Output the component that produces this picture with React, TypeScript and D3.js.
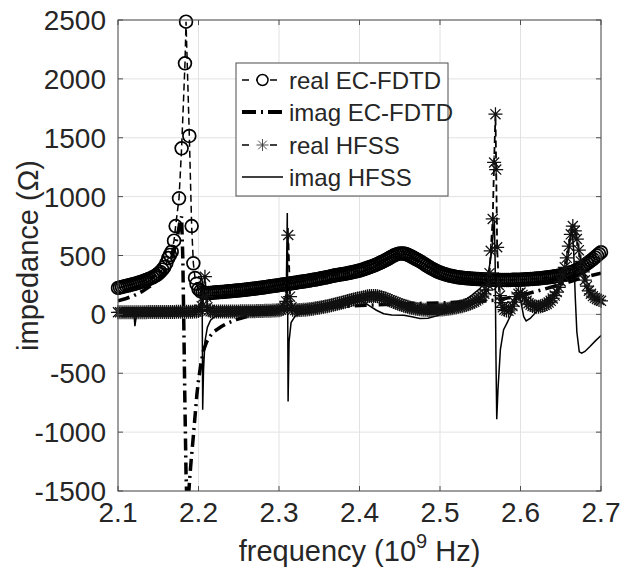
import React, { useEffect, useRef } from 'react';
import * as d3 from 'd3';

// [frequency (1e9 Hz), impedance (ohm)]
const realEcFdtd: [number, number][] = [
  [2.1000, 225], [2.1025, 229], [2.1050, 233], [2.1075, 237], [2.1100, 241], [2.1125, 245],
  [2.1150, 250], [2.1175, 254], [2.1200, 259], [2.1225, 263], [2.1250, 268], [2.1275, 273],
  [2.1300, 279], [2.1325, 285], [2.1350, 291], [2.1375, 298], [2.1400, 305], [2.1425, 313],
  [2.1450, 322], [2.1475, 332], [2.1500, 345], [2.1525, 360], [2.1550, 380], [2.1575, 402],
  [2.1600, 435], [2.1625, 478], [2.1645, 505], [2.1667, 532], [2.1696, 626],
  [2.1716, 750], [2.1758, 986], [2.1790, 1410],
  [2.1832, 2132], [2.1845, 2486], [2.1886, 1515], [2.1915, 750],
  [2.1936, 434], [2.1957, 309], [2.1975, 260], [2.2000, 215], [2.2025, 198], [2.2050, 188],
  [2.2075, 183], [2.2100, 180], [2.2125, 181], [2.2150, 182], [2.2175, 184], [2.2200, 185],
  [2.2225, 187], [2.2250, 188], [2.2275, 190], [2.2300, 191], [2.2325, 193], [2.2350, 194],
  [2.2375, 196], [2.2400, 197], [2.2425, 199], [2.2450, 200], [2.2475, 202], [2.2500, 203],
  [2.2525, 205], [2.2550, 207], [2.2575, 209], [2.2600, 211], [2.2625, 213], [2.2650, 215],
  [2.2675, 217], [2.2700, 219], [2.2725, 221], [2.2750, 223], [2.2775, 226], [2.2800, 228],
  [2.2825, 231], [2.2850, 233], [2.2875, 236], [2.2900, 238], [2.2925, 241], [2.2950, 243],
  [2.2975, 246], [2.3000, 248], [2.3025, 251], [2.3050, 253], [2.3075, 256], [2.3100, 258],
  [2.3125, 261], [2.3150, 263], [2.3175, 266], [2.3200, 268], [2.3225, 271], [2.3250, 274],
  [2.3275, 277], [2.3300, 279], [2.3325, 282], [2.3350, 284], [2.3375, 287], [2.3400, 290],
  [2.3425, 293], [2.3450, 296], [2.3475, 299], [2.3500, 302], [2.3525, 306], [2.3550, 309],
  [2.3575, 313], [2.3600, 316], [2.3625, 320], [2.3650, 324], [2.3675, 328], [2.3700, 332],
  [2.3725, 335], [2.3750, 337], [2.3775, 340], [2.3800, 343], [2.3825, 346], [2.3850, 349],
  [2.3875, 353], [2.3900, 356], [2.3925, 360], [2.3950, 364], [2.3975, 368], [2.4000, 372],
  [2.4025, 377], [2.4050, 383], [2.4075, 389], [2.4100, 395], [2.4125, 401], [2.4150, 407],
  [2.4175, 413], [2.4200, 420], [2.4225, 428], [2.4250, 436], [2.4275, 444], [2.4300, 452],
  [2.4325, 461], [2.4350, 470], [2.4375, 480], [2.4400, 490], [2.4425, 499], [2.4450, 507],
  [2.4475, 513], [2.4500, 517], [2.4525, 518], [2.4550, 516], [2.4575, 512], [2.4600, 506],
  [2.4625, 498], [2.4650, 489], [2.4675, 480], [2.4700, 470], [2.4725, 461], [2.4750, 452],
  [2.4775, 441], [2.4800, 430], [2.4825, 419], [2.4850, 408], [2.4875, 398], [2.4900, 388],
  [2.4925, 379], [2.4950, 370], [2.4975, 362], [2.5000, 355], [2.5025, 349], [2.5050, 343],
  [2.5075, 338], [2.5100, 333], [2.5125, 329], [2.5150, 325], [2.5175, 321], [2.5200, 318],
  [2.5225, 315], [2.5250, 313], [2.5275, 311], [2.5300, 309], [2.5325, 307], [2.5350, 306],
  [2.5375, 304], [2.5400, 303], [2.5425, 302], [2.5450, 301], [2.5475, 300], [2.5500, 299],
  [2.5525, 298], [2.5550, 297], [2.5575, 296], [2.5600, 295], [2.5625, 294], [2.5650, 294],
  [2.5675, 293], [2.5700, 293], [2.5725, 292], [2.5750, 292], [2.5775, 292], [2.5800, 292],
  [2.5825, 292], [2.5850, 292], [2.5875, 292], [2.5900, 293], [2.5925, 293], [2.5950, 294],
  [2.5975, 294], [2.6000, 295], [2.6025, 296], [2.6050, 297], [2.6075, 298], [2.6100, 299],
  [2.6125, 300], [2.6150, 301], [2.6175, 302], [2.6200, 304], [2.6225, 305], [2.6250, 307],
  [2.6275, 309], [2.6300, 311], [2.6325, 313], [2.6350, 315], [2.6375, 317], [2.6400, 320],
  [2.6425, 323], [2.6450, 326], [2.6475, 329], [2.6500, 333], [2.6525, 337], [2.6550, 341],
  [2.6575, 346], [2.6600, 351], [2.6625, 357], [2.6650, 363], [2.6675, 370], [2.6700, 378],
  [2.6725, 387], [2.6750, 396], [2.6775, 407], [2.6800, 418], [2.6825, 430], [2.6850, 443],
  [2.6875, 456], [2.6900, 470], [2.6925, 484], [2.6950, 499], [2.6975, 513], [2.7000, 528],
];

const imagEcFdtd: [number, number][] = [
  [2.100, 115], [2.110, 135], [2.120, 160], [2.130, 195], [2.140, 240], [2.150, 295], [2.155, 335],
  [2.160, 385], [2.165, 450], [2.170, 550], [2.174, 670], [2.177, 790], [2.179, 830], [2.1805, 480],
  [2.1818, -100], [2.183, -700], [2.1845, -1350], [2.186, -1700], [2.1875, -1560], [2.189, -1400],
  [2.191, -1230], [2.193, -1080], [2.196, -840], [2.198, -680], [2.200, -560], [2.203, -420],
  [2.206, -310], [2.210, -235], [2.215, -180], [2.220, -142], [2.228, -105], [2.235, -78],
  [2.247, -45], [2.260, -18], [2.272, 4], [2.285, 20], [2.296, 33], [2.320, 45], [2.350, 58],
  [2.400, 75], [2.450, 88], [2.500, 98], [2.550, 110], [2.570, 122], [2.600, 160], [2.630, 215],
  [2.660, 275], [2.680, 318], [2.700, 350],
];

const realHfss: [number, number][] = [
  [2.1000, 18], [2.1025, 18], [2.1050, 18], [2.1075, 18], [2.1100, 18], [2.1125, 18], [2.1150, 18],
  [2.1175, 19], [2.1200, 19], [2.1225, 19], [2.1250, 19], [2.1275, 19], [2.1300, 19], [2.1325, 19],
  [2.1350, 19], [2.1375, 20], [2.1400, 20], [2.1425, 20], [2.1450, 20], [2.1475, 20], [2.1500, 20],
  [2.1525, 20], [2.1550, 20], [2.1575, 21], [2.1600, 21], [2.1625, 21], [2.1650, 21], [2.1675, 21],
  [2.1700, 21], [2.1725, 22], [2.1750, 22], [2.1775, 22], [2.1800, 22], [2.1825, 22], [2.1850, 22],
  [2.1875, 23], [2.1900, 23], [2.1925, 23], [2.1950, 24], [2.1975, 25], [2.2000, 28], [2.2020, 40],
  [2.2040, 70], [2.2060, 150], [2.2080, 320], [2.2095, 150], [2.2110, 60], [2.2130, 35],
  [2.2150, 26], [2.2175, 25], [2.2200, 24], [2.2225, 24], [2.2250, 24], [2.2275, 24], [2.2300, 24],
  [2.2325, 24], [2.2350, 24], [2.2375, 25], [2.2400, 25], [2.2425, 25], [2.2450, 25], [2.2475, 25],
  [2.2500, 25], [2.2525, 26], [2.2550, 26], [2.2575, 26], [2.2600, 26], [2.2625, 27], [2.2650, 27],
  [2.2675, 27], [2.2700, 27], [2.2725, 28], [2.2750, 28], [2.2775, 29], [2.2800, 29], [2.2825, 30],
  [2.2850, 30], [2.2875, 31], [2.2900, 31], [2.2925, 32], [2.2950, 33], [2.2975, 34], [2.3000, 36],
  [2.3025, 40], [2.3050, 45], [2.3070, 60], [2.3090, 110], [2.3115, 674], [2.3137, 150],
  [2.3155, 60], [2.3170, 40], [2.3200, 36], [2.3225, 36], [2.3250, 37], [2.3275, 38], [2.3300, 39],
  [2.3325, 40], [2.3350, 42], [2.3375, 44], [2.3400, 46], [2.3425, 48], [2.3450, 51], [2.3475, 54],
  [2.3500, 57], [2.3525, 60], [2.3550, 63], [2.3575, 66], [2.3600, 70], [2.3625, 74], [2.3650, 78],
  [2.3675, 82], [2.3700, 86], [2.3725, 90], [2.3750, 95], [2.3775, 99], [2.3800, 104],
  [2.3825, 108], [2.3850, 113], [2.3875, 117], [2.3900, 122], [2.3925, 126], [2.3950, 130],
  [2.3975, 134], [2.4000, 138], [2.4025, 142], [2.4050, 146], [2.4075, 150], [2.4100, 153],
  [2.4125, 155], [2.4150, 157], [2.4175, 157], [2.4200, 156], [2.4225, 153], [2.4250, 150],
  [2.4275, 145], [2.4300, 140], [2.4325, 134], [2.4350, 127], [2.4375, 120], [2.4400, 113],
  [2.4425, 106], [2.4450, 99], [2.4475, 92], [2.4500, 86], [2.4525, 80], [2.4550, 74], [2.4575, 69],
  [2.4600, 64], [2.4625, 59], [2.4650, 55], [2.4675, 51], [2.4700, 48], [2.4725, 45], [2.4750, 43],
  [2.4775, 41], [2.4800, 40], [2.4825, 39], [2.4850, 38], [2.4875, 38], [2.4900, 38], [2.4925, 38],
  [2.4950, 39], [2.4975, 40], [2.5000, 41], [2.5025, 42], [2.5050, 44], [2.5075, 46], [2.5100, 48],
  [2.5125, 50], [2.5150, 53], [2.5175, 56], [2.5200, 59], [2.5225, 62], [2.5250, 66], [2.5275, 70],
  [2.5300, 75], [2.5325, 80], [2.5350, 86], [2.5375, 93], [2.5400, 100], [2.5425, 108],
  [2.5450, 117], [2.5475, 128], [2.5500, 140], [2.5525, 156], [2.5550, 175], [2.5575, 205],
  [2.5600, 250], [2.5615, 350], [2.5630, 540], [2.5655, 810], [2.5672, 1290], [2.5689, 1700],
  [2.5698, 1230], [2.5710, 570], [2.5730, 250], [2.5745, 160], [2.5760, 100], [2.5780, 60],
  [2.5800, 40], [2.5825, 32], [2.5850, 30], [2.5875, 45], [2.5900, 70], [2.5925, 105],
  [2.5950, 150], [2.5975, 175], [2.6000, 185], [2.6025, 165], [2.6050, 140], [2.6075, 115],
  [2.6100, 95], [2.6125, 82], [2.6150, 72], [2.6175, 67], [2.6200, 64], [2.6225, 65], [2.6250, 68],
  [2.6275, 73], [2.6300, 80], [2.6325, 89], [2.6350, 100], [2.6375, 115], [2.6400, 135],
  [2.6425, 160], [2.6450, 190], [2.6475, 230], [2.6500, 280], [2.6525, 335], [2.6550, 400],
  [2.6575, 480], [2.6600, 580], [2.6625, 680], [2.6650, 750], [2.6675, 710], [2.6700, 640],
  [2.6725, 545], [2.6750, 450], [2.6775, 360], [2.6800, 290], [2.6825, 240], [2.6850, 200],
  [2.6875, 175], [2.6900, 155], [2.6925, 140], [2.6950, 130], [2.6975, 122], [2.7000, 115],
];

const imagHfss: [number, number][] = [
  [2.100, 2], [2.110, 3], [2.118, 5], [2.1195, 45], [2.121, -100], [2.1225, -25], [2.126, 2],
  [2.140, 5], [2.160, 8], [2.180, 10], [2.190, 13], [2.197, 22], [2.201, 55], [2.203, 110],
  [2.2045, 230], [2.2052, -810], [2.2062, -480], [2.208, -230], [2.211, -110], [2.215, -50],
  [2.220, -20], [2.230, -3], [2.250, 8], [2.270, 16], [2.285, 25], [2.295, 38], [2.301, 62],
  [2.306, 105], [2.309, 176], [2.3103, 860], [2.3113, -740], [2.3125, -230], [2.315, -70],
  [2.320, -15], [2.330, 12], [2.350, 42], [2.370, 72], [2.390, 100], [2.398, 112], [2.405, 105],
  [2.413, 70], [2.421, 35], [2.430, 5], [2.440, -6], [2.455, -8], [2.465, -20], [2.475, -35],
  [2.485, -32], [2.495, -15], [2.505, 10], [2.515, 45], [2.525, 92], [2.540, 165], [2.550, 221],
  [2.556, 285], [2.560, 349], [2.564, 520], [2.566, 688], [2.5675, 800], [2.5685, 450],
  [2.5695, -350], [2.5705, -890], [2.572, -640], [2.575, -300], [2.579, -130], [2.583, -76],
  [2.588, -5], [2.592, 90], [2.595, 170], [2.598, 190], [2.601, 90], [2.604, -20], [2.607, -55],
  [2.612, -35], [2.620, 25], [2.630, 105], [2.641, 179], [2.650, 245], [2.655, 330], [2.659, 500],
  [2.662, 650], [2.664, 720], [2.666, 550], [2.668, 150], [2.670, -150], [2.673, -318],
  [2.676, -330], [2.680, -315], [2.686, -275], [2.693, -225], [2.700, -180],
];

const xTicks = [2.1, 2.2, 2.3, 2.4, 2.5, 2.6, 2.7];
const yTicks = [-1500, -1000, -500, 0, 500, 1000, 1500, 2000, 2500];
const legendLabels = ['real EC-FDTD', 'imag EC-FDTD', 'real HFSS', 'imag HFSS'];

const FONT = '"Liberation Sans", Arial, Helvetica, sans-serif';
const TEXT = '#262626';

// MATLAB style '*' marker: plus and cross on top of each other
const asterisk = (s: number) => {
  const a = s * 0.72;
  return `M${-s},0H${s}M0,${-s}V${s}M${-a},${-a}L${a},${a}M${-a},${a}L${a},${-a}`;
};

const App = () => {
  const svgRef = useRef<SVGSVGElement>(null);

  useEffect(() => {
    const svg = d3.select(svgRef.current);
    svg.selectAll('*').remove();

    const left = 118, right = 601, top = 20, bottom = 491;
    const x = d3.scaleLinear().domain([2.1, 2.7]).range([left, right]);
    const y = d3.scaleLinear().domain([-1500, 2500]).range([bottom, top]);

    svg.append('rect').attr('width', 620).attr('height', 583).attr('fill', '#fff');

    svg.append('defs').append('clipPath').attr('id', 'plot-clip')
      .append('rect')
      .attr('x', left).attr('y', top)
      .attr('width', right - left).attr('height', bottom - top);

    // grid
    const grid = svg.append('g').attr('stroke', '#e2e2e2').attr('stroke-width', 1);
    grid.selectAll('.gx').data(xTicks).enter().append('line')
      .attr('x1', d => x(d)).attr('x2', d => x(d))
      .attr('y1', top).attr('y2', bottom);
    grid.selectAll('.gy').data(yTicks).enter().append('line')
      .attr('x1', left).attr('x2', right)
      .attr('y1', d => y(d)).attr('y2', d => y(d));

    const line = d3.line<[number, number]>().x(d => x(d[0])).y(d => y(d[1]));
    const plot = svg.append('g');
    const clipped = plot.append('g').attr('clip-path', 'url(#plot-clip)');
    const inRange = (d: [number, number]) => d[1] >= -1500 && d[1] <= 2500;

    // real EC-FDTD: dashed line, circle markers
    clipped.append('path').datum(realEcFdtd)
      .attr('d', line).attr('fill', 'none')
      .attr('stroke', '#000').attr('stroke-width', 1.5).attr('stroke-dasharray', '7,4');
    plot.append('g').selectAll('circle').data(realEcFdtd.filter(inRange)).enter().append('circle')
      .attr('cx', d => x(d[0])).attr('cy', d => y(d[1])).attr('r', 6.4)
      .attr('fill', 'none').attr('stroke', '#000').attr('stroke-width', 1.7);

    // imag EC-FDTD: thick dash-dot
    clipped.append('path').datum(imagEcFdtd)
      .attr('d', line).attr('fill', 'none')
      .attr('stroke', '#000').attr('stroke-width', 3.5).attr('stroke-dasharray', '12,5,2,5');

    // real HFSS: dashed line, asterisks
    clipped.append('path').datum(realHfss)
      .attr('d', line).attr('fill', 'none')
      .attr('stroke', '#000').attr('stroke-width', 1.8).attr('stroke-dasharray', '7,4');
    plot.append('g').selectAll('path').data(realHfss.filter(inRange)).enter().append('path')
      .attr('transform', d => `translate(${x(d[0])},${y(d[1])})`)
      .attr('d', asterisk(7))
      .attr('fill', 'none').attr('stroke', '#111').attr('stroke-width', 1.25);

    // imag HFSS: thin solid line
    clipped.append('path').datum(imagHfss)
      .attr('d', line).attr('fill', 'none')
      .attr('stroke', '#000').attr('stroke-width', 1.5);

    // axes box + inward ticks
    const axes = svg.append('g').attr('stroke', '#4d4d4d').attr('stroke-width', 1);
    axes.append('rect')
      .attr('x', left).attr('y', top)
      .attr('width', right - left).attr('height', bottom - top)
      .attr('fill', 'none');
    xTicks.forEach(t => {
      axes.append('line').attr('x1', x(t)).attr('x2', x(t)).attr('y1', bottom).attr('y2', bottom - 5);
      axes.append('line').attr('x1', x(t)).attr('x2', x(t)).attr('y1', top).attr('y2', top + 5);
    });
    yTicks.forEach(t => {
      axes.append('line').attr('x1', left).attr('x2', left + 5).attr('y1', y(t)).attr('y2', y(t));
      axes.append('line').attr('x1', right).attr('x2', right - 5).attr('y1', y(t)).attr('y2', y(t));
    });

    // tick labels
    svg.append('g').selectAll('text').data(xTicks).enter().append('text')
      .attr('x', d => x(d)).attr('y', 522)
      .attr('text-anchor', 'middle')
      .attr('font-family', FONT).attr('font-size', 28).attr('fill', TEXT)
      .text(d => d3.format('.1f')(d));
    svg.append('g').selectAll('text').data(yTicks).enter().append('text')
      .attr('x', 106).attr('y', d => y(d) + 10)
      .attr('text-anchor', 'end')
      .attr('font-family', FONT).attr('font-size', 28).attr('fill', TEXT)
      .text(d => String(d));

    // axis labels
    const xl = svg.append('text')
      .attr('x', (left + right) / 2).attr('y', 561)
      .attr('text-anchor', 'middle')
      .attr('font-family', FONT).attr('font-size', 29).attr('fill', TEXT);
    xl.append('tspan').text('frequency (10');
    xl.append('tspan').attr('font-size', 20).attr('dy', -13).text('9');
    xl.append('tspan').attr('dy', 13).text(' Hz)');

    svg.append('text')
      .attr('transform', `translate(38,${(top + bottom) / 2}) rotate(-90)`)
      .attr('text-anchor', 'middle')
      .attr('font-family', FONT).attr('font-size', 29).attr('fill', TEXT)
      .text('impedance (\u03A9)');

    // legend
    const lg = svg.append('g');
    lg.append('rect')
      .attr('x', 236).attr('y', 63).attr('width', 212).attr('height', 133)
      .attr('fill', '#fff').attr('stroke', '#4d4d4d').attr('stroke-width', 1);
    const rowY = [80, 112, 145, 177];
    const x0 = 242, x1 = 283, xm = (x0 + x1) / 2;
    // real EC-FDTD sample
    lg.append('line').attr('x1', x0).attr('x2', x1).attr('y1', rowY[0]).attr('y2', rowY[0])
      .attr('stroke', '#000').attr('stroke-width', 1.5).attr('stroke-dasharray', '7,7');
    lg.append('circle').attr('cx', xm).attr('cy', rowY[0]).attr('r', 5.5)
      .attr('fill', '#fff').attr('stroke', '#000').attr('stroke-width', 1.5);
    // imag EC-FDTD sample
    lg.append('line').attr('x1', x0).attr('x2', x1).attr('y1', rowY[1]).attr('y2', rowY[1])
      .attr('stroke', '#000').attr('stroke-width', 4).attr('stroke-dasharray', '14,5,2,5');
    // real HFSS sample
    lg.append('line').attr('x1', x0).attr('x2', x1).attr('y1', rowY[2]).attr('y2', rowY[2])
      .attr('stroke', '#000').attr('stroke-width', 1.5).attr('stroke-dasharray', '7,7');
    lg.append('rect').attr('x', xm - 7).attr('y', rowY[2] - 7).attr('width', 14).attr('height', 14).attr('fill', '#fff');
    lg.append('path').attr('transform', `translate(${xm},${rowY[2]})`).attr('d', asterisk(6))
      .attr('fill', 'none').attr('stroke', '#3a3a3a').attr('stroke-width', 0.9);
    // imag HFSS sample
    lg.append('line').attr('x1', x0).attr('x2', x1).attr('y1', rowY[3]).attr('y2', rowY[3])
      .attr('stroke', '#000').attr('stroke-width', 1.4);

    lg.selectAll('.lt').data(legendLabels).enter().append('text')
      .attr('x', 289).attr('y', (d, i) => rowY[i] + 8.5)
      .attr('font-family', FONT).attr('font-size', 24).attr('fill', TEXT)
      .text(d => d);
  }, []);

  return (
    <svg
      ref={svgRef}
      width={620}
      height={583}
      style={{ position: 'absolute', left: 0, top: 0, display: 'block' }}
    />
  );
};

export default App;
